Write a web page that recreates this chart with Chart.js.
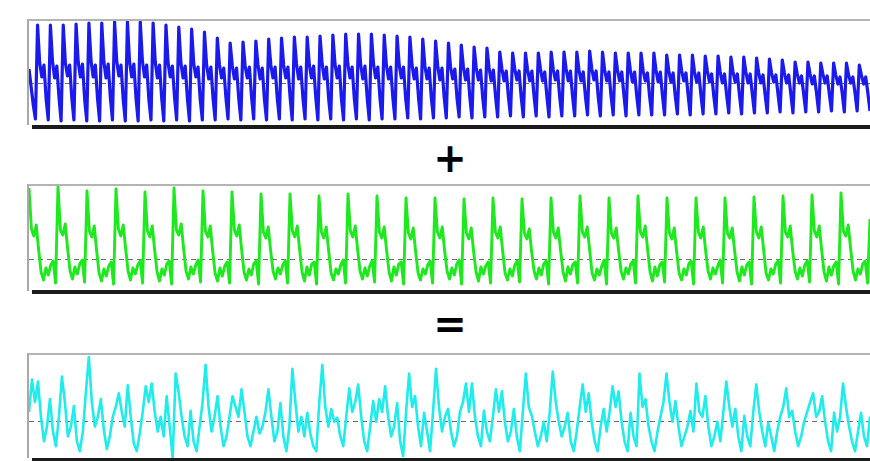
<!DOCTYPE html>
<html>
<head>
<meta charset="utf-8">
<script src="https://cdn.jsdelivr.net/npm/chart.js@4.4.1/dist/chart.umd.min.js"></script>
<style>
  html, body { margin: 0; padding: 0; background: #fff; width: 870px; height: 461px; overflow: hidden; }
  .panel { position: absolute; left: 27px; width: 843px; border-top: 2px solid #b4b4b4; border-left: 2px solid #a8a8a8; box-sizing: border-box; background: #fff; }
  .panel canvas { display: block; }
  .shadow { position: absolute; left: 32px; width: 838px; height: 4px; background: #1b1b1b; }
  .sign { position: absolute; left: 400px; width: 100px; text-align: center; font-family: "DejaVu Sans", sans-serif; font-weight: bold; color: #000; }
</style>
</head>
<body>

<div class="panel" id="p1" style="top:19px;height:106px"><canvas id="c1" width="841" height="104"></canvas></div>
<div class="shadow" style="top:125px"></div>
<div class="sign" style="top:134px;font-size:40px;line-height:48px">+</div>

<div class="panel" id="p2" style="top:184px;height:107px"><canvas id="c2" width="841" height="105"></canvas></div>
<div class="shadow" style="top:290px"></div>
<div class="sign" style="top:300px;font-size:40px;line-height:48px">=</div>

<div class="panel" id="p3" style="top:353px;height:105px"><canvas id="c3" width="841" height="103"></canvas></div>
<div class="shadow" style="top:458px;height:3px"></div>

<script>
// signal 1 (blue): fast waveform, 6 samples per cycle
const blueValues = [
  14, -4, -22, -36,
  58, 20, 6, 18, -16, -37,   58, 21, 5, 17, -14, -38,   58, 20, 7, 18, -15, -37,
  59, 21, 6, 19, -16, -38,   60, 22, 6, 18, -15, -38,   60, 21, 5, 19, -14, -37,
  61, 22, 7, 18, -16, -38,   61, 21, 6, 19, -15, -38,   61, 22, 6, 18, -16, -37,
  60, 21, 5, 18, -15, -38,   58, 20, 6, 17, -14, -37,   56, 20, 5, 17, -15, -38,
  54, 19, 6, 16, -16, -37,   51, 18, 4, 16, -15, -37,   45, 18, 5, 15, -14, -36,
  40, 17, 4, 15, -15, -37,   41, 17, 5, 16, -14, -36,   42, 18, 4, 15, -16, -37,
  44, 18, 5, 16, -15, -36,   45, 18, 5, 16, -14, -37,   46, 19, 4, 16, -15, -36,
  46, 18, 5, 17, -14, -37,   47, 19, 4, 16, -15, -36,   48, 19, 5, 17, -16, -37,
  49, 19, 5, 16, -15, -36,   49, 18, 4, 17, -14, -37,   49, 19, 5, 16, -15, -36,
  48, 18, 4, 16, -14, -36,   47, 18, 5, 16, -15, -35,   46, 18, 4, 15, -14, -36,
  44, 17, 4, 15, -15, -35,   42, 17, 3, 15, -14, -35,   40, 16, 4, 14, -15, -34,
  38, 16, 3, 14, -14, -35,   36, 15, 3, 13, -14, -34,   35, 15, 2, 13, -13, -34,
  31, 14, 2, 12, -13, -33,   30, 14, 3, 12, -14, -34,   30, 13, 2, 12, -13, -33,
  30, 14, 2, 11, -13, -34,   31, 13, 3, 12, -14, -33,   31, 14, 2, 12, -13, -33,
  31, 13, 2, 11, -13, -32,   32, 14, 3, 12, -14, -33,   31, 13, 2, 11, -13, -32,
  30, 13, 2, 11, -12, -33,   30, 13, 1, 11, -13, -32,   30, 12, 2, 10, -13, -32,
  30, 13, 1, 11, -12, -32,   28, 12, 1, 10, -13, -31,   28, 12, 2, 10, -12, -32,
  28, 11, 1, 10, -12, -31,   27, 12, 1, 9, -13, -31,    27, 11, 0, 9, -12, -30,
  26, 11, 1, 9, -12, -31,    26, 11, 0, 9, -11, -30,    25, 10, 0, 8, -12, -30,
  24, 10, 1, 8, -11, -29,    23, 10, 0, 8, -11, -30,    21, 9, 0, 7, -11, -29,
  21, 9, -1, 7, -10, -29,    20, 9, 0, 7, -11, -28,     20, 8, -1, 6, -10, -29,
  20, 8, 0, 6, -10, -28,     18, 8, -1, 6, -10, -28
];

// signal 2 (green): pulse-like beats, 12 samples per beat
const greenValues = [
  71, 30, 23, 34, 9, -13, -21, -9, -16, -6, -2, -24,
  73, 29, 24, 35, 10, -12, -20, -8, -15, -5, -1, -23,
  68, 28, 22, 33, 8, -14, -22, -10, -17, -7, -3, -25,
  70, 30, 23, 34, 10, -12, -21, -9, -15, -6, -2, -24,
  67, 28, 22, 33, 9, -13, -22, -10, -16, -5, -2, -25,
  71, 29, 24, 35, 10, -12, -20, -8, -15, -6, -1, -23,
  68, 28, 22, 33, 8, -14, -22, -9, -17, -7, -3, -24,
  67, 29, 23, 34, 9, -13, -21, -10, -16, -5, -2, -25,
  65, 27, 21, 32, 8, -12, -20, -9, -15, -6, -2, -24,
  65, 28, 22, 33, 9, -13, -22, -8, -16, -5, -3, -25,
  63, 27, 21, 32, 8, -14, -21, -10, -15, -6, -1, -24,
  65, 28, 22, 33, 9, -12, -20, -9, -17, -7, -2, -23,
  63, 27, 21, 32, 8, -13, -22, -8, -16, -5, -3, -25,
  61, 26, 20, 31, 7, -14, -21, -10, -15, -6, -2, -24,
  61, 27, 21, 32, 8, -12, -20, -9, -16, -5, -1, -25,
  60, 26, 20, 31, 7, -13, -22, -8, -15, -7, -3, -24,
  61, 27, 21, 32, 8, -14, -21, -10, -17, -6, -2, -23,
  60, 26, 20, 30, 7, -12, -20, -9, -16, -5, -2, -25,
  61, 27, 21, 31, 8, -13, -22, -8, -15, -6, -3, -24,
  63, 27, 22, 32, 9, -14, -21, -10, -16, -7, -1, -25,
  61, 26, 21, 31, 8, -12, -20, -9, -15, -5, -2, -24,
  63, 27, 22, 33, 9, -13, -22, -8, -17, -6, -3, -23,
  61, 26, 20, 31, 7, -14, -21, -10, -16, -5, -2, -25,
  61, 27, 21, 32, 8, -12, -20, -9, -15, -7, -1, -24,
  61, 26, 21, 31, 8, -13, -22, -8, -16, -6, -3, -25,
  62, 27, 21, 32, 9, -14, -21, -10, -15, -5, -2, -24,
  63, 27, 22, 33, 8, -12, -20, -9, -17, -6, -2, -23,
  64, 28, 22, 33, 9, -13, -22, -8, -16, -7, -3, -25,
  66, 28, 23, 34, 10, -12, -21, -10, -15, -5, -2, -24,
  40
];

// signal 3 (cyan): sum, sampled more densely
const cyanValues = [
  10, 43, 20, 41, 5, -20, -5, 23, -10, -25,
  5, 46, 20, -15, -5, 16, -20, -30, -10, 30,
  66, 20, -5, 5, 23, -8, -28, -15, 5, 15,
  29, 10, -5, 37, 5, -22, -30, -12, 10, 36,
  20, 39, 10, -10, 5, -15, 26, -5, -37, 49,
  30, 5, -15, -25, 11, -20, -30, -5, 20, 58,
  15, -10, 5, 26, -5, -25, -15, 5, 26, 15,
  5, 33, 10, -15, -25, -10, 5, -12, -5, 10,
  33, 5, -20, -10, 19, -15, -30, -5, 54, 20,
  -10, 5, -15, 9, -12, -25, -30, 20, 58, 15,
  -5, 13, 0, 4, -15, -25, 5, 34, 10, 20,
  38, 5, -20, -30, -5, 21, 0, 23, 10, 36,
  5, -15, -5, 19, -20, -35, 10, 49, 15, 26,
  -5, -25, 9, -10, -30, 10, 54, 15, -10, 5,
  13, -10, -25, -15, 10, 20, 39, 10, 39, 5,
  -15, -25, 11, -10, -20, 5, 33, 10, 31, 0,
  -20, -10, 13, -15, -30, 10, 49, 15, 6, -10,
  -25, -15, 0, -20, 10, 51, 20, 0, -15, -5,
  9, -20, -30, -10, 15, 38, 10, 29, 0, -20,
  -30, -5, 13, -10, 10, 36, 15, 31, 0, -20,
  -30, 9, -15, -25, 49, 15, 23, -5, -20, -30,
  -10, 5, 20, 49, 20, 0, 21, -5, -25, -15,
  -5, 11, -10, 39, 10, 5, 26, -5, -25, -15,
  0, -20, 10, 41, 15, -5, 13, -15, -30, 6,
  -15, -25, 10, 38, 10, -10, -25, -1, -15, -30,
  -10, 5, 15, 34, 5, 11, -10, -25, -15, 0,
  10, 20, 29, 5, 10, 26, 0, -20, -30, 9,
  -10, 5, 39, 15, -5, -20, -30, -10, 9, -15,
  -25, 5
];

const blueRange = [-42, 62];
const greenRange = [-32, 73];
const cyanRange = [-37, 68];

function makeChart(id, values, color, range, width) {
  const ctx = document.getElementById(id).getContext('2d');
  return new Chart(ctx, {
    type: 'line',
    data: {
      labels: values.map((v, i) => i),
      datasets: [{
        data: values.map((v, i) => ({ x: i, y: v })),
        borderColor: color,
        borderWidth: width,
        pointRadius: 0,
        tension: 0,
        borderJoinStyle: 'round',
        fill: false
      }]
    },
    options: {
      responsive: false,
      animation: false,
      events: [],
      layout: { padding: 0 },
      plugins: { legend: { display: false }, tooltip: { enabled: false } },
      scales: {
        x: { type: 'linear', min: 0, max: values.length - 1, display: false },
        y: {
          min: range[0],
          max: range[1],
          ticks: { display: false },
          grid: { color: '#6e6e6e', lineWidth: 1, drawTicks: false },
          border: { display: false, dash: [5, 4] },
          afterBuildTicks: s => { s.ticks = [{ value: 0 }]; }
        }
      }
    }
  });
}

makeChart('c1', blueValues, '#1a1aee', blueRange, 3.2);
makeChart('c2', greenValues, '#1ee81e', greenRange, 2.9);
makeChart('c3', cyanValues, '#20ecec', cyanRange, 2.6);
</script>
</body>
</html>
